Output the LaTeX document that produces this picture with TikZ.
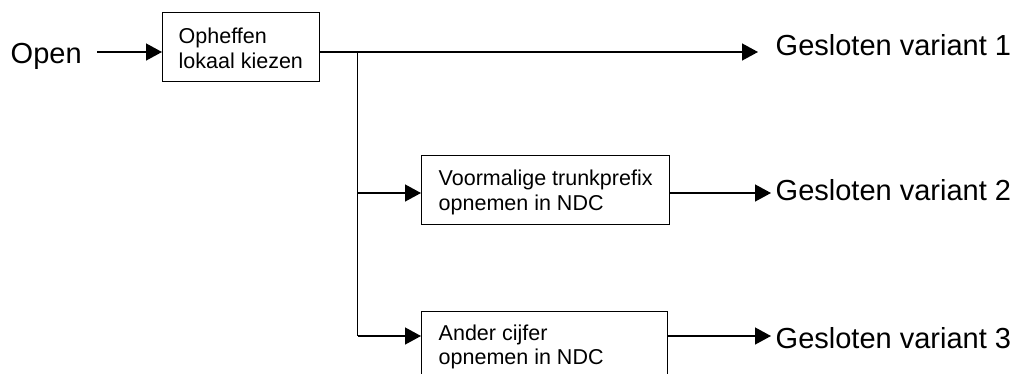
\documentclass[tikz,border=0pt]{standalone}
\usepackage{fontspec}
\setmainfont{Liberation Sans}
\usetikzlibrary{arrows.meta,calc}
\begin{document}
\begin{tikzpicture}[x=1pt,y=-1pt,
  line width=1.4pt,
  box/.style={draw,line width=1.4pt,rectangle,inner sep=0pt,anchor=north west},
  big/.style={font=\fontsize{29}{34}\selectfont,inner sep=0pt,anchor=base west},
  small/.style={font=\fontsize{21.5}{25}\selectfont,inner sep=0pt,anchor=base west},
  arr/.style={-{Triangle[length=16pt,width=17pt]}}]
\useasboundingbox (0,0) rectangle (1020,373);
\clip (0,0) rectangle (1020,373);
% boxes
\node[box,minimum width=157pt,minimum height=69pt] (b1) at (162,12) {};
\node[box,minimum width=248pt,minimum height=69pt] (b2) at (421,155) {};
\node[box,minimum width=246pt,minimum height=69pt] (b3) at (421,311) {};
% box texts
\node[small] (t1a) at (178,43) {Opheffen};
\node[small] (t1b) at (178,68) {lokaal kiezen};
\node[small] (t2a) at (438,185) {Voormalige trunkprefix};
\node[small] (t2b) at (438,210) {opnemen in NDC};
\node[small] (t3a) at (438,340) {Ander cijfer};
\node[small] (t3b) at (438,364) {opnemen in NDC};
% outer texts
\node[big] (open) at (10,63) {Open};
\node[big] (v1) at (775,55) {Gesloten variant 1};
\node[big] (v2) at (775,200) {Gesloten variant 2};
\node[big] (v3) at (775,348) {Gesloten variant 3};
% coordinates
\coordinate (o1) at (97,52);
\coordinate (j1) at (357.5,52);
\coordinate (j2) at (357.5,193);
\coordinate (j3) at (357.5,336);
\coordinate (e1) at (758,52);
\coordinate (e2) at (771,193);
\coordinate (e3) at (771,336);
% connectors
\draw[arr] (o1) -- (b1.west |- o1);
\draw[arr] (b1.east |- j1) -- (e1);
\draw (j1) -- (j3);
\draw[arr] (j2) -- (b2.west |- j2);
\draw[arr] (j3) -- (b3.west |- j3);
\draw[arr] (b2.east |- e2) -- (e2);
\draw[arr] (b3.east |- e3) -- (e3);
\end{tikzpicture}
\end{document}
